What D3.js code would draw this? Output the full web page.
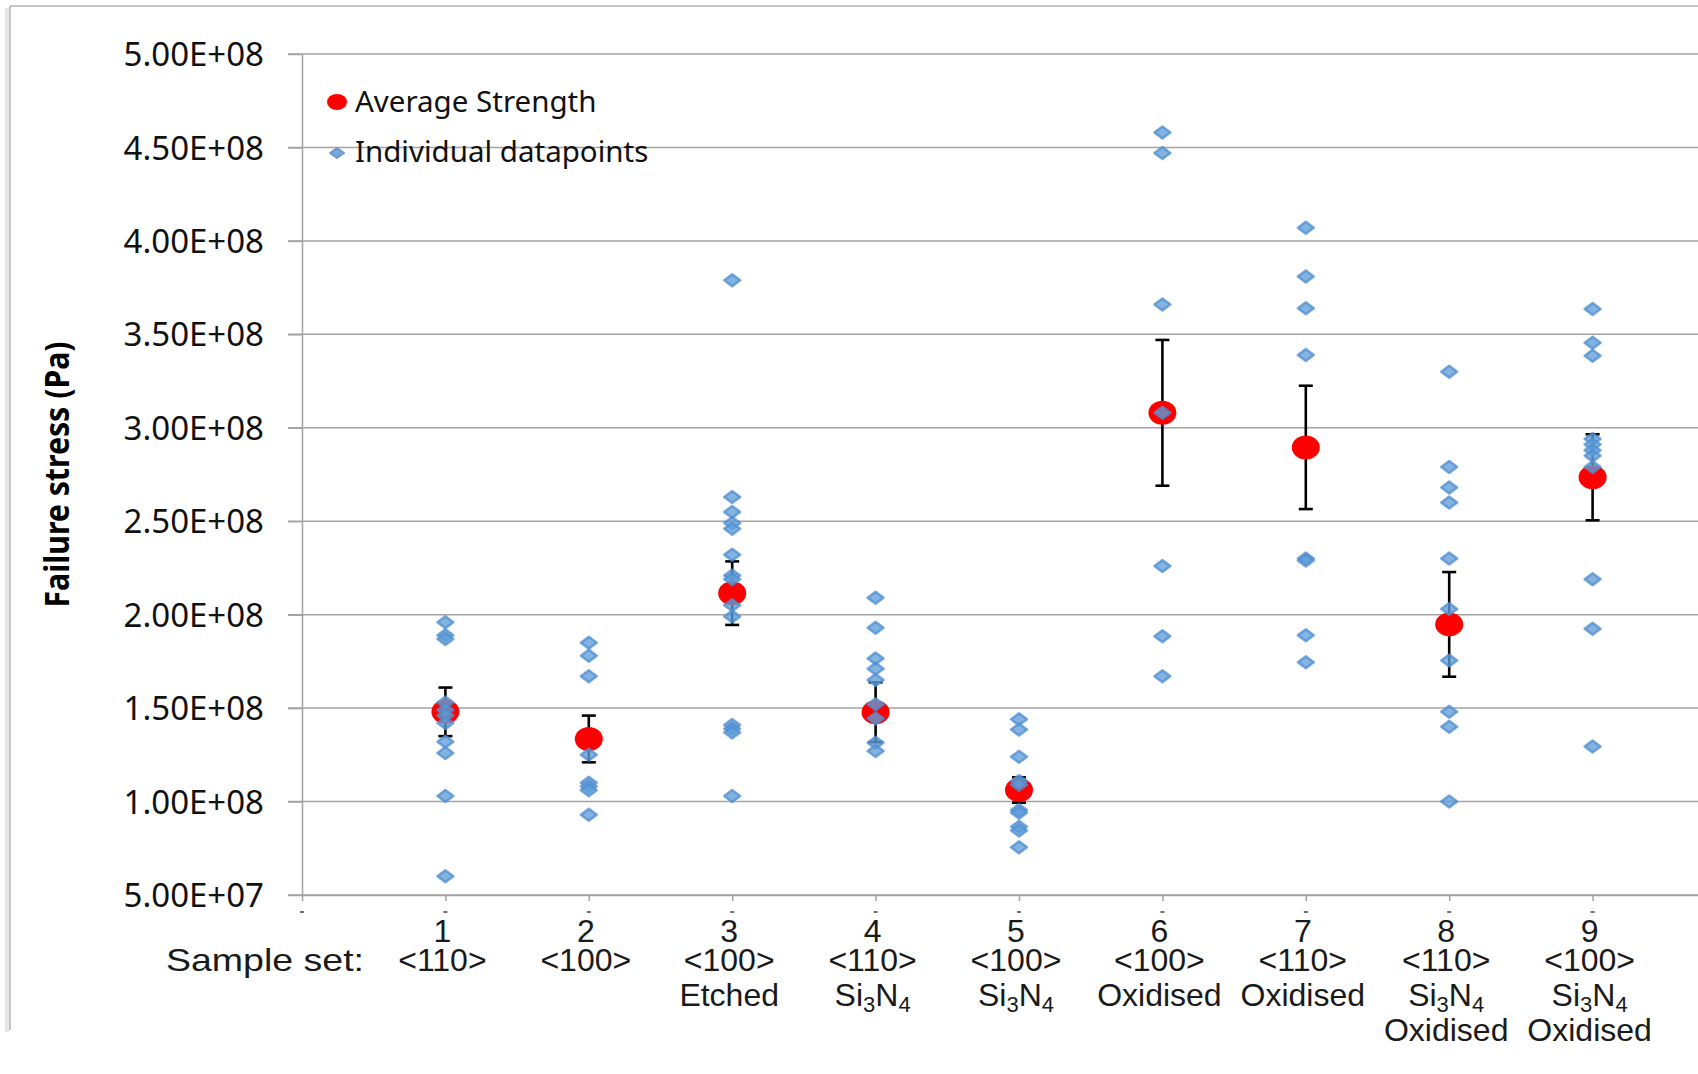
<!DOCTYPE html>
<html>
<head>
<meta charset="utf-8">
<script src="https://cdn.jsdelivr.net/npm/d3@7"></script>
<style>
  body { margin: 0; background: #fff; }
  svg { display: block; }
</style>
</head>
<body>
<div id="chart"></div>
<script>
// sample sets along the x axis
const categories = [1, 2, 3, 4, 5, 6, 7, 8, 9];
const categoryLines = [
  ['<110>'],
  ['<100>'],
  ['<100>', 'Etched'],
  ['<110>', 'Si3N4'],
  ['<100>', 'Si3N4'],
  ['<100>', 'Oxidised'],
  ['<110>', 'Oxidised'],
  ['<110>', 'Si3N4', 'Oxidised'],
  ['<100>', 'Si3N4', 'Oxidised'],
];

// individual failure stress values (Pa), one list per sample set
const individualPoints = [
  [1.96e8, 1.89e8, 1.87e8, 1.53e8, 1.49e8, 1.46e8, 1.42e8, 1.32e8, 1.26e8, 1.03e8, 0.60e8],
  [1.85e8, 1.78e8, 1.67e8, 1.25e8, 1.10e8, 1.08e8, 1.06e8, 0.93e8],
  [3.79e8, 2.63e8, 2.55e8, 2.49e8, 2.46e8, 2.32e8, 2.21e8, 2.19e8, 2.05e8, 1.99e8, 1.41e8, 1.39e8, 1.37e8, 1.03e8],
  [2.09e8, 1.93e8, 1.765e8, 1.71e8, 1.65e8, 1.52e8, 1.445e8, 1.315e8, 1.27e8],
  [1.44e8, 1.385e8, 1.24e8, 1.11e8, 1.09e8, 0.955e8, 0.94e8, 0.865e8, 0.845e8, 0.755e8],
  [4.58e8, 4.47e8, 3.66e8, 3.08e8, 2.26e8, 1.885e8, 1.67e8],
  [4.07e8, 3.81e8, 3.64e8, 3.39e8, 2.30e8, 2.29e8, 1.89e8, 1.745e8],
  [3.30e8, 2.79e8, 2.68e8, 2.60e8, 2.30e8, 2.03e8, 1.755e8, 1.48e8, 1.40e8, 1.00e8],
  [3.635e8, 3.455e8, 3.385e8, 2.94e8, 2.91e8, 2.88e8, 2.85e8, 2.79e8, 2.19e8, 1.925e8, 1.295e8],
];

// average strength and error bar half-height (Pa)
const averageStrength = [1.48e8, 1.335e8, 2.115e8, 1.478e8, 1.062e8, 3.08e8, 2.895e8, 1.948e8, 2.735e8];
const averageError = [0.13e8, 0.125e8, 0.17e8, 0.16e8, 0.068e8, 0.39e8, 0.33e8, 0.28e8, 0.23e8];

const yTicks = [5e7, 1e8, 1.5e8, 2e8, 2.5e8, 3e8, 3.5e8, 4e8, 4.5e8, 5e8];
const yTickLabels = ['5.00E+07', '1.00E+08', '1.50E+08', '2.00E+08', '2.50E+08',
  '3.00E+08', '3.50E+08', '4.00E+08', '4.50E+08', '5.00E+08'];
const xTicks = [0, 1, 2, 3, 4, 5, 6, 7, 8, 9];

const W = 1698, H = 1074;
const gridColor = '#a3a3a3';
const blue = '#5f9dd8';

const svg = d3.select('#chart').append('svg')
  .attr('width', W).attr('height', H);

// frame of the original picture
svg.append('line').attr('x1', 7).attr('x2', 7).attr('y1', 8).attr('y2', 1032)
  .attr('stroke', '#e6e6e6').attr('stroke-width', 4);
svg.append('line').attr('x1', 10).attr('x2', W).attr('y1', 6).attr('y2', 6)
  .attr('stroke', '#b3b3b3').attr('stroke-width', 1.5);
svg.append('line').attr('x1', 10).attr('x2', 10).attr('y1', 6).attr('y2', 1030)
  .attr('stroke', '#b3b3b3').attr('stroke-width', 1.5);

const x = d3.scaleLinear().domain([0, 10]).range([302, 1736]);
const y = d3.scaleLinear().domain([5e7, 5e8]).range([895, 54]);

// horizontal gridlines
svg.append('g')
  .selectAll('line')
  .data(yTicks)
  .enter()
  .append('line')
  .attr('x1', x(0) - 14)
  .attr('x2', W)
  .attr('y1', (d) => y(d))
  .attr('y2', (d) => y(d))
  .attr('stroke', gridColor)
  .attr('stroke-width', 1.5);

// y axis
const yAxis = svg.append('g')
  .attr('transform', `translate(${x(0)},0)`)
  .call(d3.axisLeft(y).tickValues(yTicks).tickFormat((d, i) => yTickLabels[i])
    .tickSize(14).tickSizeOuter(0).tickPadding(24));
yAxis.select('.domain').attr('stroke', gridColor).attr('stroke-width', 1.5);
yAxis.selectAll('.tick line').attr('stroke', gridColor).attr('stroke-width', 1.5);
yAxis.selectAll('.tick text')
  .attr('font-family', '"Noto Sans", sans-serif')
  .attr('font-size', 33)
  .attr('fill', '#111')
  .attr('dy', '0.35em');

// x axis
const xAxis = svg.append('g')
  .attr('transform', `translate(0,${y(5e7)})`)
  .call(d3.axisBottom(x).tickValues(xTicks).tickFormat('').tickSize(6).tickSizeOuter(0));
xAxis.select('.domain').attr('stroke', gridColor).attr('stroke-width', 1.5);
xAxis.selectAll('.tick line').attr('stroke', gridColor).attr('stroke-width', 1.5);

// tiny marks left over above the category numbers
svg.append('g')
  .selectAll('line')
  .data(xTicks)
  .enter()
  .append('line')
  .attr('x1', (d) => x(d) - 2)
  .attr('x2', (d) => x(d) + 2)
  .attr('y1', 912)
  .attr('y2', 912)
  .attr('stroke', '#444')
  .attr('stroke-width', 1.5);

// category labels: one text block per sample set
const labelFont = '"Liberation Sans", Arial, sans-serif';
const labelRows = [942, 971, 1006, 1041];

const catG = svg.append('g')
  .attr('font-family', labelFont)
  .attr('font-size', 32)
  .attr('fill', '#1a1a1a')
  .attr('text-anchor', 'middle');

function writeFormula(t, str) {
  // digits in a formula are written as subscripts
  let sub = false;
  for (const ch of str) {
    const isDigit = /[0-9]/.test(ch);
    const s = t.append('tspan').text(ch);
    if (isDigit && !sub) { s.attr('dy', 6).attr('font-size', 22); sub = true; }
    else if (isDigit) { s.attr('font-size', 22); }
    else if (sub) { s.attr('dy', -6); sub = false; }
  }
}

categories.forEach((c, i) => {
  const t = catG.append('text');
  [String(c), ...categoryLines[i]].forEach((line, j) => {
    const row = t.append('tspan')
      .attr('x', x(c) - 3)
      .attr('y', labelRows[j]);
    if (line === 'Si3N4') writeFormula(row, line);
    else row.text(line);
  });
});

catG.append('text')
  .attr('x', 364)
  .attr('y', 971)
  .attr('text-anchor', 'end')
  .attr('textLength', 198)
  .attr('lengthAdjust', 'spacingAndGlyphs')
  .text('Sample set:');

// y axis title
svg.append('text')
  .attr('transform', `translate(69,${(y(2.05e8) + y(3.45e8)) / 2}) rotate(-90)`)
  .attr('text-anchor', 'middle')
  .attr('font-family', '"Noto Sans", sans-serif')
  .attr('font-weight', 'bold')
  .attr('font-size', 34)
  .attr('textLength', 266)
  .attr('lengthAdjust', 'spacingAndGlyphs')
  .attr('fill', '#000')
  .text('Failure stress (Pa)');

// error bars
const eb = svg.append('g').attr('stroke', '#000').attr('stroke-width', 2.6);
categories.forEach((c, i) => {
  const top = y(averageStrength[i] + averageError[i]);
  const bot = y(averageStrength[i] - averageError[i]);
  eb.append('line').attr('x1', x(c)).attr('x2', x(c)).attr('y1', top).attr('y2', bot);
  eb.append('line').attr('x1', x(c) - 7).attr('x2', x(c) + 7).attr('y1', top).attr('y2', top);
  eb.append('line').attr('x1', x(c) - 7).attr('x2', x(c) + 7).attr('y1', bot).attr('y2', bot);
});

// average strength markers
svg.append('g')
  .selectAll('ellipse')
  .data(averageStrength)
  .enter()
  .append('ellipse')
  .attr('cx', (d, i) => x(categories[i]))
  .attr('cy', (d) => y(d))
  .attr('rx', 14)
  .attr('ry', 12)
  .attr('fill', '#ff0000');

// individual datapoints
function diamond(cx, cy, hw, hh) {
  return `M${cx - hw},${cy}L${cx},${cy - hh}L${cx + hw},${cy}L${cx},${cy + hh}Z`;
}

const flat = [];
individualPoints.forEach((pts, i) => pts.forEach((v) => flat.push({ c: categories[i], v })));

svg.append('g')
  .selectAll('path')
  .data(flat)
  .enter()
  .append('path')
  .attr('d', (d) => diamond(x(d.c), y(d.v), 8, 6))
  .attr('fill', blue)
  .attr('fill-opacity', 0.78)
  .attr('stroke', '#4f8dd0')
  .attr('stroke-opacity', 0.75)
  .attr('stroke-width', 2.5)
  .attr('stroke-linejoin', 'round');

// legend
const legend = svg.append('g')
  .attr('font-family', '"Noto Sans", sans-serif')
  .attr('font-size', 29.5)
  .attr('fill', '#111');
legend.append('ellipse').attr('cx', 337).attr('cy', 102).attr('rx', 10).attr('ry', 8)
  .attr('fill', '#ff0000');
legend.append('text').attr('x', 355).attr('y', 112).text('Average Strength');
legend.append('path').attr('d', diamond(337, 153, 7, 5))
  .attr('fill', '#7aa6d8').attr('stroke', '#6b9bd2').attr('stroke-width', 2)
  .attr('stroke-linejoin', 'round');
legend.append('text').attr('x', 355).attr('y', 162).text('Individual datapoints');
</script>
</body>
</html>
